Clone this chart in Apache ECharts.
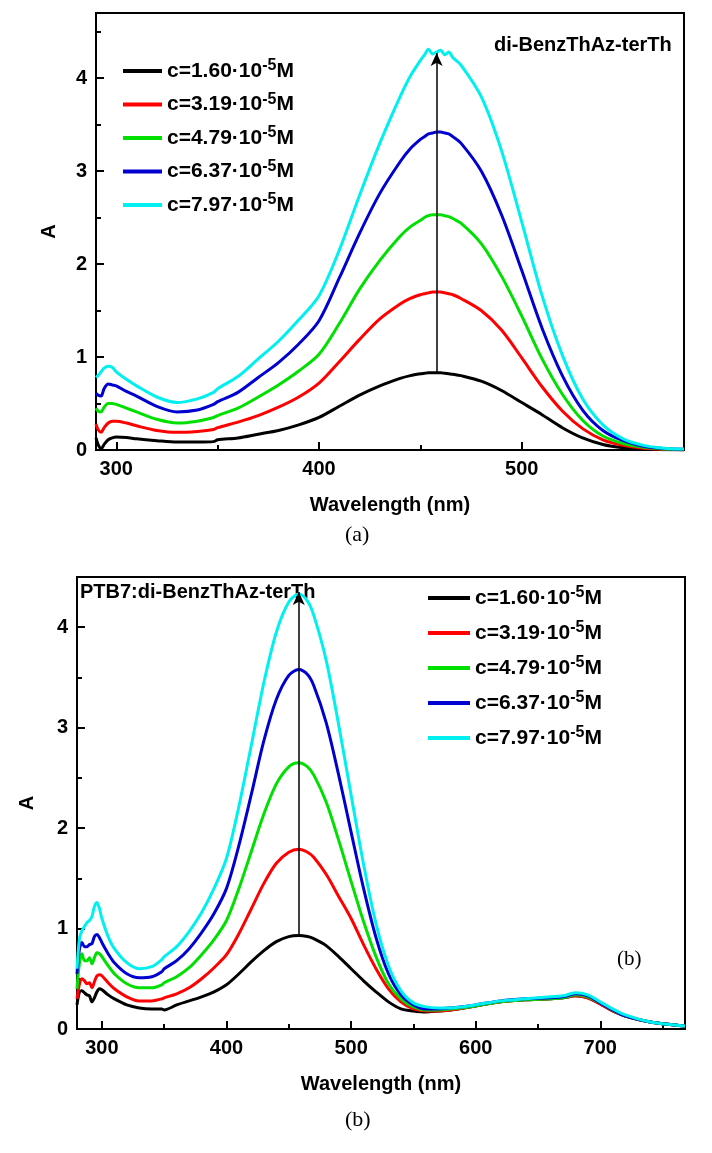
<!DOCTYPE html>
<html><head><meta charset="utf-8">
<script src="https://cdn.jsdelivr.net/npm/echarts@6/dist/echarts.min.js"></script>
<style>html,body{margin:0;padding:0;background:#fff}#c{width:712px;height:1153px}</style>
</head><body><div id="c"></div>
<script>
// ---------- data ----------
const concentrations = ['1.60', '3.19', '4.79', '6.37', '7.97'];
const seriesColors = ['#000000', '#ff0000', '#00e000', '#0000d0', '#00f0f0'];

// Panel (a): di-BenzThAz-terTh
const wavelengthA = [290, 291, 292.5, 294, 296, 298, 300, 305, 310, 320, 330, 340, 348, 350, 360, 370, 380, 390, 400, 410, 420, 430, 440, 445, 450, 452, 454, 456, 458, 460, 462, 464, 466, 470, 480, 490, 500, 510, 520, 530, 540, 550, 560, 570, 580];
const absA_160 = [0.13, 0.06, 0.01, 0.06, 0.11, 0.13, 0.14, 0.135, 0.12, 0.10, 0.085, 0.085, 0.09, 0.11, 0.13, 0.17, 0.21, 0.27, 0.35, 0.47, 0.59, 0.69, 0.77, 0.80, 0.82, 0.825, 0.83, 0.83, 0.83, 0.83, 0.825, 0.82, 0.815, 0.80, 0.74, 0.64, 0.51, 0.38, 0.24, 0.13, 0.06, 0.025, 0.01, 0.004, 0.0];
const absA_319 = [0.28, 0.22, 0.19, 0.24, 0.29, 0.31, 0.31, 0.29, 0.26, 0.21, 0.19, 0.20, 0.22, 0.24, 0.30, 0.37, 0.46, 0.57, 0.72, 0.95, 1.19, 1.41, 1.57, 1.63, 1.67, 1.68, 1.69, 1.70, 1.70, 1.70, 1.69, 1.68, 1.67, 1.63, 1.50, 1.29, 0.99, 0.68, 0.42, 0.23, 0.11, 0.05, 0.02, 0.008, 0.003];
const absA_479 = [0.45, 0.42, 0.41, 0.46, 0.50, 0.50, 0.49, 0.45, 0.41, 0.33, 0.29, 0.31, 0.35, 0.37, 0.45, 0.57, 0.70, 0.85, 1.03, 1.36, 1.73, 2.04, 2.30, 2.40, 2.47, 2.50, 2.52, 2.53, 2.53, 2.53, 2.52, 2.51, 2.49, 2.44, 2.22, 1.87, 1.44, 0.98, 0.60, 0.32, 0.15, 0.07, 0.03, 0.012, 0.005];
const absA_637 = [0.61, 0.59, 0.58, 0.66, 0.71, 0.70, 0.69, 0.63, 0.58, 0.47, 0.41, 0.43, 0.49, 0.52, 0.62, 0.78, 0.94, 1.14, 1.39, 1.85, 2.33, 2.76, 3.10, 3.24, 3.34, 3.37, 3.40, 3.41, 3.42, 3.42, 3.41, 3.40, 3.37, 3.30, 3.00, 2.53, 1.93, 1.31, 0.80, 0.43, 0.21, 0.10, 0.04, 0.015, 0.008];
const absA_797 = [0.78, 0.80, 0.84, 0.88, 0.90, 0.89, 0.84, 0.76, 0.69, 0.57, 0.51, 0.55, 0.62, 0.66, 0.79, 0.98, 1.17, 1.40, 1.66, 2.15, 2.74, 3.30, 3.80, 4.02, 4.19, 4.25, 4.31, 4.26, 4.28, 4.30, 4.25, 4.28, 4.22, 4.14, 3.80, 3.22, 2.45, 1.66, 1.02, 0.55, 0.27, 0.12, 0.05, 0.02, 0.01];

// Panel (b): PTB7:di-BenzThAz-terTh
const wavelengthB = [280, 282, 284, 286, 288, 290, 292, 294, 296, 298, 300, 305, 310, 320, 330, 340, 348, 350, 360, 370, 380, 390, 400, 410, 420, 430, 440, 450, 458, 465, 470, 480, 490, 500, 510, 520, 530, 540, 550, 560, 570, 580, 600, 620, 640, 660, 670, 680, 690, 700, 710, 720, 740, 760, 768];
const absB_160 = [0.24, 0.37, 0.38, 0.36, 0.34, 0.33, 0.27, 0.31, 0.37, 0.40, 0.39, 0.34, 0.30, 0.24, 0.21, 0.20, 0.20, 0.19, 0.24, 0.28, 0.32, 0.37, 0.44, 0.55, 0.67, 0.78, 0.87, 0.92, 0.93, 0.92, 0.90, 0.83, 0.72, 0.60, 0.48, 0.37, 0.27, 0.20, 0.18, 0.17, 0.18, 0.19, 0.23, 0.27, 0.29, 0.30, 0.31, 0.33, 0.31, 0.25, 0.18, 0.13, 0.07, 0.04, 0.03];
const absB_319 = [0.30, 0.45, 0.50, 0.48, 0.45, 0.46, 0.41, 0.47, 0.53, 0.54, 0.53, 0.46, 0.40, 0.32, 0.28, 0.28, 0.30, 0.31, 0.35, 0.41, 0.50, 0.61, 0.74, 0.95, 1.20, 1.45, 1.65, 1.76, 1.79, 1.76, 1.71, 1.54, 1.32, 1.10, 0.84, 0.60, 0.40, 0.27, 0.20, 0.18, 0.18, 0.19, 0.23, 0.27, 0.29, 0.30, 0.31, 0.33, 0.31, 0.25, 0.18, 0.13, 0.07, 0.04, 0.03];
const absB_479 = [0.40, 0.66, 0.75, 0.68, 0.68, 0.71, 0.65, 0.71, 0.76, 0.75, 0.72, 0.63, 0.55, 0.45, 0.41, 0.41, 0.44, 0.46, 0.52, 0.61, 0.74, 0.89, 1.08, 1.40, 1.77, 2.14, 2.44, 2.61, 2.65, 2.61, 2.53, 2.26, 1.88, 1.47, 1.07, 0.72, 0.45, 0.30, 0.22, 0.19, 0.19, 0.20, 0.23, 0.27, 0.29, 0.30, 0.31, 0.34, 0.32, 0.26, 0.19, 0.13, 0.07, 0.04, 0.03];
const absB_637 = [0.55, 0.80, 0.86, 0.82, 0.82, 0.84, 0.85, 0.92, 0.94, 0.91, 0.86, 0.75, 0.66, 0.55, 0.51, 0.52, 0.57, 0.60, 0.68, 0.80, 0.96, 1.15, 1.40, 1.83, 2.34, 2.87, 3.28, 3.52, 3.58, 3.53, 3.42, 3.05, 2.53, 1.96, 1.40, 0.91, 0.55, 0.34, 0.24, 0.20, 0.20, 0.21, 0.24, 0.28, 0.30, 0.31, 0.32, 0.35, 0.33, 0.26, 0.19, 0.13, 0.07, 0.04, 0.03];
const absB_797 = [0.60, 0.90, 0.98, 1.02, 1.06, 1.08, 1.12, 1.22, 1.26, 1.20, 1.10, 0.92, 0.80, 0.66, 0.60, 0.62, 0.69, 0.72, 0.82, 0.97, 1.16, 1.40, 1.70, 2.22, 2.83, 3.45, 3.95, 4.25, 4.33, 4.26, 4.12, 3.67, 3.03, 2.33, 1.64, 1.05, 0.63, 0.38, 0.26, 0.22, 0.21, 0.21, 0.24, 0.28, 0.30, 0.32, 0.33, 0.36, 0.34, 0.27, 0.20, 0.14, 0.07, 0.04, 0.03];

// Axis ticks / labels
const xTicksA = [300, 400, 500];
const xMinorA = [350, 450, 550];
const xTicksB = [300, 400, 500, 600, 700];
const xMinorB = [350, 450, 550, 650, 750];
const yTicks = [0, 1, 2, 3, 4];
const yMinorA = [0.5, 1.5, 2.5, 3.5, 4.5];
const yMinorB = [0.5, 1.5, 2.5, 3.5];

// Arrows [wavelength, from A, to A]
const arrowA = [458, 0.84, 4.27];
const arrowB = [458, 0.94, 4.35];

// ---------- chart ----------
const SANS = '"Liberation Sans", Arial, sans-serif';
const SERIF = '"Liberation Serif", "Times New Roman", serif';
const names = concentrations.map(c => 'c=' + c + '·10-5M');
const dataA = [absA_160, absA_319, absA_479, absA_637, absA_797];
const dataB = [absB_160, absB_319, absB_479, absB_637, absB_797];

function xMajor(grid, min, max, ticks, title) {
  return {
    gridIndex: grid, type: 'value', min: min, max: max, position: 'bottom',
    name: title, nameLocation: 'middle', nameGap: 45,
    nameTextStyle: {fontFamily: SANS, fontSize: 20, fontWeight: 'bold', color: '#000'},
    axisLine: {show: true, lineStyle: {color: '#000', width: 2}},
    axisTick: {show: true, inside: true, length: 8, customValues: ticks, lineStyle: {color: '#000', width: 2}},
    axisLabel: {show: true, customValues: ticks, margin: 9, fontFamily: SANS, fontSize: 20, fontWeight: 'bold', color: '#000'},
    splitLine: {show: false}
  };
}
function xMinor(grid, min, max, ticks) {
  return {
    gridIndex: grid, type: 'value', min: min, max: max, position: 'bottom',
    axisLine: {show: false},
    axisTick: {show: true, inside: true, length: 5, customValues: ticks, lineStyle: {color: '#000', width: 2}},
    axisLabel: {show: false}, splitLine: {show: false}
  };
}
function yMajor(grid, max, gap) {
  return {
    gridIndex: grid, type: 'value', min: 0, max: max, position: 'left',
    name: 'A', nameLocation: 'middle', nameGap: gap, nameRotate: 90,
    nameTextStyle: {fontFamily: SANS, fontSize: 20, fontWeight: 'bold', color: '#000'},
    axisLine: {show: true, lineStyle: {color: '#000', width: 2}},
    axisTick: {show: true, inside: true, length: 8, customValues: yTicks, lineStyle: {color: '#000', width: 2}},
    axisLabel: {show: true, customValues: yTicks, margin: 9, fontFamily: SANS, fontSize: 20, fontWeight: 'bold', color: '#000'},
    splitLine: {show: false}
  };
}
function yMinor(grid, max, ticks) {
  return {
    gridIndex: grid, type: 'value', min: 0, max: max, position: 'left',
    axisLine: {show: false},
    axisTick: {show: true, inside: true, length: 5, customValues: ticks, lineStyle: {color: '#000', width: 2}},
    axisLabel: {show: false}, splitLine: {show: false}
  };
}
function legend(left, top, gap, w) {
  return {
    data: names, orient: 'vertical', left: left, top: top, itemGap: gap,
    itemWidth: w, itemHeight: 4, icon: 'rect', selectedMode: false,
    formatter: function (n) {
      const c = n.slice(2, 6);
      return '{a|c=' + c + '·10}{s|-5}{a|M}';
    },
    textStyle: {
      rich: {
        a: {fontFamily: SANS, fontSize: 21, fontWeight: 'bold', color: '#000'},
        s: {fontFamily: SANS, fontSize: 16, fontWeight: 'bold', color: '#000', padding: [0, 0, 10, 0]}
      }
    }
  };
}
function makeSeries(wl, vals, i, xIdx, yIdx, arrow) {
  const s = {
    name: names[i], type: 'line', xAxisIndex: xIdx, yAxisIndex: yIdx,
    data: wl.map((w, k) => [w, vals[k]]),
    showSymbol: false, smooth: 0.3, color: seriesColors[i],
    lineStyle: {width: 3, color: seriesColors[i]}, z: 2 + i, animation: false
  };
  if (arrow) {
    s.markLine = {
      silent: true, symbol: ['none', 'arrow'], symbolSize: [9, 13], z: 20,
      lineStyle: {color: '#000', width: 1.5, type: 'solid'}, label: {show: false},
      data: [[{coord: [arrow[0], arrow[1]]}, {coord: [arrow[0], arrow[2]]}]]
    };
  }
  return s;
}

const series = [];
dataA.forEach((v, i) => series.push(makeSeries(wavelengthA, v, i, 0, 0, i === 0 ? arrowA : null)));
dataB.forEach((v, i) => series.push(makeSeries(wavelengthB, v, i, 2, 2, i === 0 ? arrowB : null)));

const chart = echarts.init(document.getElementById('c'), null, {renderer: 'canvas'});
chart.setOption({
  animation: false,
  backgroundColor: '#fff',
  grid: [
    {left: 96, top: 13, width: 588, height: 437, show: true, borderColor: '#000', borderWidth: 2},
    {left: 77, top: 577, width: 608, height: 452, show: true, borderColor: '#000', borderWidth: 2}
  ],
  xAxis: [
    xMajor(0, 290, 580, xTicksA, 'Wavelength (nm)'), xMinor(0, 290, 580, xMinorA),
    xMajor(1, 280, 768, xTicksB, 'Wavelength (nm)'), xMinor(1, 280, 768, xMinorB)
  ],
  yAxis: [
    yMajor(0, 4.7, 37), yMinor(0, 4.7, yMinorA),
    yMajor(1, 4.5, 40), yMinor(1, 4.5, yMinorB)
  ],
  legend: [legend(118, 53, 10, 39), legend(423, 580, 11.5, 42)],
  series: series,
  graphic: [
    {type: 'text', left: 494, top: 35, style: {text: 'di-BenzThAz-terTh', font: 'bold 20px ' + SANS, fill: '#000'}},
    {type: 'text', left: 80, top: 582, style: {text: 'PTB7:di-BenzThAz-terTh', font: 'bold 20px ' + SANS, fill: '#000'}},
    {type: 'text', left: 617, top: 949, style: {text: '(b)', font: '21px ' + SERIF, fill: '#000'}},
    {type: 'text', left: 345, top: 524, style: {text: '(a)', font: '22px ' + SERIF, fill: '#000'}},
    {type: 'text', left: 345, top: 1109, style: {text: '(b)', font: '22px ' + SERIF, fill: '#000'}}
  ]
});
</script>
</body></html>
